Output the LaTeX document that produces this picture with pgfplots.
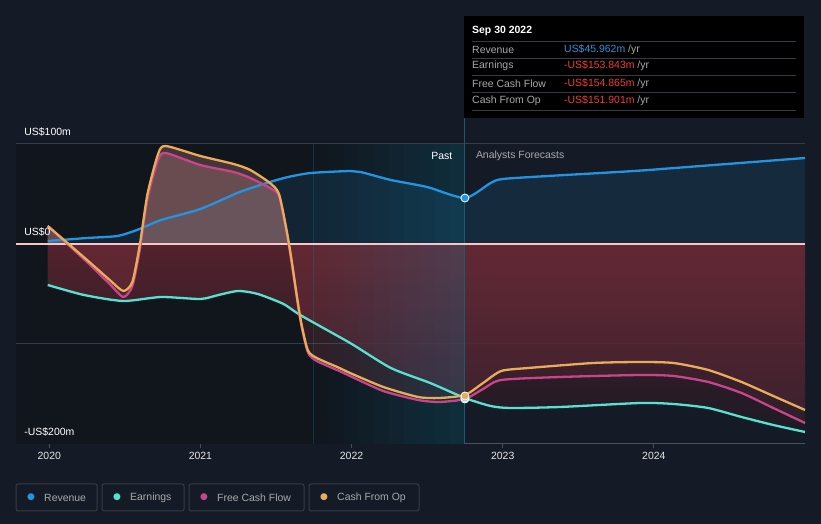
\documentclass[border=0pt]{standalone}
\usepackage{pgfplots}
\pgfplotsset{compat=1.18}
\usepackage{pgfplotstable}
\usepackage{fontspec}
\setmainfont{Liberation Sans}
\newfontfamily\sym{DejaVu Sans}
\definecolor{bg}{HTML}{151B26}
\definecolor{pastbg}{HTML}{11151C}
\definecolor{rev}{HTML}{2394DF}
\definecolor{earn}{HTML}{58E1CF}
\definecolor{fcf}{HTML}{C7468A}
\definecolor{cfo}{HTML}{E8AC5A}
\definecolor{gridc}{HTML}{363B46}
\definecolor{axisc}{HTML}{4A4F5A}
\definecolor{txt}{HTML}{E6E6E6}
\definecolor{lbl}{HTML}{A8A8A8}
\definecolor{negv}{HTML}{F03C3C}
\definecolor{band}{HTML}{0A90B8}
\definecolor{zeroc}{HTML}{F4C8C8}
\definecolor{posc}{HTML}{C88888}
\definecolor{negc}{HTML}{A84050}
\definecolor{earntop}{HTML}{5C2430}
\definecolor{earnbot}{HTML}{1E1A24}
\definecolor{vline}{HTML}{1C5A70}

\pgfplotstableread{
x y
2019.99 3
2020.25 6
2020.45 8
2020.58 14
2020.74 24
2021.0 35
2021.26 52
2021.46 62
2021.58 67
2021.73 71
2021.99 73
2022.06 72
2022.26 64
2022.50 57
2022.75 46
2022.92 61
2023.0 65
2023.3 68
2023.87 73
2024.31 78
2025.0 86
}\revtab

\pgfplotstableread{
x y
2019.99 -41
2020.23 -51
2020.49 -57
2020.74 -53
2021.0 -55
2021.12 -51
2021.25 -47
2021.38 -50
2021.55 -60
2021.66 -71
2021.99 -99
2022.26 -124
2022.52 -139
2022.75 -154
2022.92 -162
2023.05 -164
2023.38 -163
2023.91 -159
2024.13 -160
2024.36 -164
2024.58 -173
2024.79 -181
2025.0 -188
}\earntab

\pgfplotstableread{
x y
2019.99 18
2020.25 -18
2020.40 -40
2020.49 -53
2020.55 -42
2020.60 -5
2020.65 45
2020.72 84
2020.77 91
2021.0 79
2021.22 72
2021.33 66
2021.46 56
2021.52 48
2021.57 12
2021.60 -15
2021.66 -75
2021.71 -108
2021.77 -117
2021.92 -127
2021.99 -132
2022.21 -147
2022.44 -156
2022.58 -158
2022.75 -155
2022.87 -145
2022.99 -136
2023.38 -133
2023.91 -131
2024.13 -132
2024.36 -138
2024.58 -149
2024.79 -164
2025.0 -179
}\fcftab

\pgfplotstableread{
x y
2019.99 18
2020.25 -16
2020.40 -36
2020.49 -47
2020.55 -38
2020.60 0
2020.65 50
2020.72 90
2020.77 98
2021.0 88
2021.22 80
2021.33 74
2021.46 61
2021.52 50
2021.57 14
2021.60 -13
2021.66 -73
2021.71 -106
2021.77 -114
2021.92 -124
2021.99 -129
2022.21 -143
2022.44 -153
2022.58 -154
2022.75 -151
2022.87 -139
2022.99 -127
2023.17 -124
2023.60 -119
2023.91 -118
2024.13 -119
2024.36 -126
2024.58 -138
2024.79 -152
2025.0 -166
}\cfotab

\begin{document}
\begin{tikzpicture}[x=1bp,y=1bp,font=\fontsize{10.5}{12}\selectfont]
\fill[bg] (0,0) rectangle (821,524);
\begin{axis}[
  at={(16bp,80bp)}, anchor=south west,
  scale only axis, width=789bp, height=300bp,
  xmin=2019.78, xmax=2025.0, ymin=-200, ymax=100,
  axis x line*=bottom, axis y line=none,
  x axis line style={draw=axisc, line width=1bp, -},
  xtick={2020,2021,2022,2023,2024},
  xticklabels={2020,2021,2022,2023,2024},
  xtick align=outside, major tick length=4bp,
  tick style={draw=axisc, line width=0.8bp},
  xticklabel style={text=txt, font=\fontsize{10.5}{12}\selectfont, yshift=-1bp},
  ytick=\empty,
  clip=false,
]
% past background
\fill[pastbg] (axis cs:2019.78,-200) rectangle (axis cs:2022.75,100);
% grid
\draw[gridc, line width=1bp] (axis cs:2019.78,100) -- (axis cs:2025.0,100);
\draw[gridc, line width=1bp] (axis cs:2019.78,-100) -- (axis cs:2025.0,-100);
% fills
\addplot[draw=none, fill=rev, fill opacity=0.13, smooth, tension=0.4] table {\revtab} \closedcycle;
\addplot[draw=none, top color=earntop, bottom color=earnbot, fill opacity=0.88, smooth, tension=0.4] table {\earntab} \closedcycle;
\begin{scope}
\clip (axis cs:2019.78,0) rectangle (axis cs:2025.0,110);
\addplot[draw=none, fill=posc, fill opacity=0.28, smooth, tension=0.4] table {\cfotab} \closedcycle;
\addplot[draw=none, fill=posc, fill opacity=0.28, smooth, tension=0.4] table {\fcftab} \closedcycle;
\end{scope}
\begin{scope}
\clip (axis cs:2019.78,-210) rectangle (axis cs:2025.0,0);
\addplot[draw=none, fill=negc, fill opacity=0.11, smooth, tension=0.4] table {\cfotab} \closedcycle;
\addplot[draw=none, fill=negc, fill opacity=0.11, smooth, tension=0.4] table {\fcftab} \closedcycle;
\end{scope}
% band
\fill[band, fill opacity=0.02] (axis cs:2021.75,-200) rectangle (axis cs:2021.85,100);
\fill[band, fill opacity=0.04] (axis cs:2021.85,-200) rectangle (axis cs:2021.95,100);
\fill[band, fill opacity=0.06] (axis cs:2021.95,-200) rectangle (axis cs:2022.05,100);
\fill[band, fill opacity=0.08] (axis cs:2022.05,-200) rectangle (axis cs:2022.15,100);
\fill[band, fill opacity=0.10] (axis cs:2022.15,-200) rectangle (axis cs:2022.25,100);
\fill[band, fill opacity=0.12] (axis cs:2022.25,-200) rectangle (axis cs:2022.35,100);
\fill[band, fill opacity=0.14] (axis cs:2022.35,-200) rectangle (axis cs:2022.45,100);
\fill[band, fill opacity=0.16] (axis cs:2022.45,-200) rectangle (axis cs:2022.55,100);
\fill[band, fill opacity=0.18] (axis cs:2022.55,-200) rectangle (axis cs:2022.65,100);
\fill[band, fill opacity=0.20] (axis cs:2022.65,-200) rectangle (axis cs:2022.75,100);
\draw[band, opacity=0.25, line width=0.8bp] (axis cs:2021.75,-200) -- (axis cs:2021.75,100);
\draw[vline, line width=1bp] (axis cs:2022.75,-200) -- (axis cs:2022.75,126);
% zero line
\draw[zeroc, line width=1.2bp] (axis cs:2019.78,0) -- (axis cs:2025.0,0);
% lines
\addplot[rev, line width=2.3bp, smooth, tension=0.4] table {\revtab};
\addplot[earn, line width=2.3bp, smooth, tension=0.4] table {\earntab};
\addplot[fcf, line width=2.3bp, smooth, tension=0.4] table {\fcftab};
\addplot[cfo, line width=2.3bp, smooth, tension=0.4] table {\cfotab};
% markers
\addplot[only marks, mark=*, mark size=4bp, mark options={fill=rev, draw=white, line width=0.8bp}] coordinates {(2022.75,46)};
\addplot[only marks, mark=*, mark size=4bp, mark options={fill=fcf, draw=white, line width=0.8bp}] coordinates {(2022.75,-155)};
\addplot[only marks, mark=*, mark size=4bp, mark options={fill=earn, draw=white, line width=0.8bp}] coordinates {(2022.75,-154)};
\addplot[only marks, mark=*, mark size=4bp, mark options={fill=cfo, draw=white, line width=0.8bp}] coordinates {(2022.75,-152)};
% texts
\node[anchor=east, text=white] at (axis cs:2022.69,88) {Past};
\node[anchor=west, text=lbl] at (axis cs:2022.80,88) {Analysts Forecasts};
\node[anchor=west, text=white, inner sep=0pt] at (axis cs:2019.834,112) {US\$100m};
\node[anchor=west, text=white, inner sep=0pt] at (axis cs:2019.834,12) {US\$0};
\node[anchor=west, text=white, inner sep=0pt] at (axis cs:2019.834,-188) {-US\$200m};
\end{axis}
% tooltip
\fill[black] (464,406) rectangle (804,508);
\node[anchor=west, text=white, inner sep=0pt, font=\fontsize{10.5}{12}\selectfont\bfseries] at (472,493) {Sep 30 2022};
\foreach \yy in {482.5,465.5,448,431,413}{\draw[gridc, line width=1bp] (472,\yy) -- (796,\yy);}
\node[anchor=west, text=lbl, inner sep=0pt] at (472,474.5) {Revenue};
\node[anchor=west, text=lbl, inner sep=0pt] at (472,458) {Earnings};
\node[anchor=west, text=lbl, inner sep=0pt] at (472,440.3) {Free Cash Flow};
\node[anchor=west, text=lbl, inner sep=0pt] at (472,423) {Cash From Op};
\node[anchor=west, inner sep=0pt] at (564,474.5) {\textcolor{rev}{US\$45.962m}\textcolor{lbl}{\ /yr}};
\node[anchor=west, inner sep=0pt] at (564,458) {\textcolor{negv}{-US\$153.843m}\textcolor{lbl}{\ /yr}};
\node[anchor=west, inner sep=0pt] at (564,440.3) {\textcolor{negv}{-US\$154.865m}\textcolor{lbl}{\ /yr}};
\node[anchor=west, inner sep=0pt] at (564,423) {\textcolor{negv}{-US\$151.901m}\textcolor{lbl}{\ /yr}};
% legend
\draw[gridc, line width=1bp, rounded corners=2bp] (16,13) rectangle (97,40);
\draw[gridc, line width=1bp, rounded corners=2bp] (102,13) rectangle (184,40);
\draw[gridc, line width=1bp, rounded corners=2bp] (189,13) rectangle (304,40);
\draw[gridc, line width=1bp, rounded corners=2bp] (309,13) rectangle (419,40);
\node[text=rev, inner sep=0pt, font=\sym\fontsize{9}{10}\selectfont] at (31,26.5) {●};
\node[text=earn, inner sep=0pt, font=\sym\fontsize{9}{10}\selectfont] at (117,26.5) {●};
\node[text=fcf, inner sep=0pt, font=\sym\fontsize{9}{10}\selectfont] at (204,26.5) {●};
\node[text=cfo, inner sep=0pt, font=\sym\fontsize{9}{10}\selectfont] at (324,26.5) {●};
\node[anchor=west, text=lbl, inner sep=0pt] at (44,26.5) {Revenue};
\node[anchor=west, text=lbl, inner sep=0pt] at (130,26.5) {Earnings};
\node[anchor=west, text=lbl, inner sep=0pt] at (217,26.5) {Free Cash Flow};
\node[anchor=west, text=lbl, inner sep=0pt] at (337,26.5) {Cash From Op};
\pgfresetboundingbox
\path (0,0) rectangle (821,524);
\end{tikzpicture}
\end{document}
